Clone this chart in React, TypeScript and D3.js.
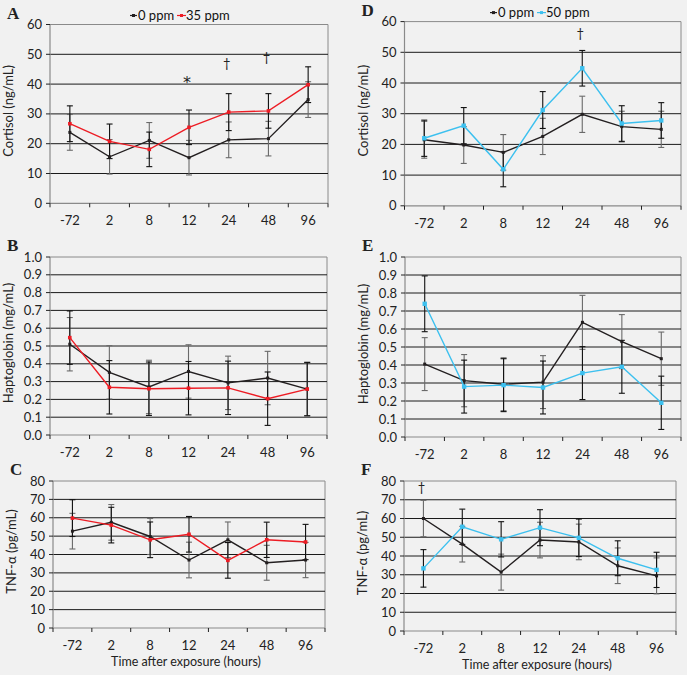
import React from "react";
import * as d3 from "d3";

const categories = ["-72", "2", "8", "12", "24", "48", "96"];

const cortisolTicks = [0, 10, 20, 30, 40, 50, 60];
const haptoTicks = [0, 0.1, 0.2, 0.3, 0.4, 0.5, 0.6, 0.7, 0.8, 0.9, 1.0];
const tnfTicks = [0, 10, 20, 30, 40, 50, 60, 70, 80];

// Panel A
const cortisolCtrlA = [23.8, 15.6, 21.1, 15.3, 21.3, 21.7, 34.8];
const cortisolCtrlAErr = [6, 5.8, 6, 5.8, 6, 5.8, 6];
const cortisol35 = [26.7, 20.8, 18.1, 25.5, 30.6, 31.0, 39.8];
const cortisol35Err = [6, 5.8, 5.8, 5.8, 6.2, 5.8, 6];
// Panel B
const haptoCtrlB = [0.51, 0.352, 0.27, 0.357, 0.293, 0.32, 0.258];
const haptoCtrlBErr = [0.15, 0.15, 0.15, 0.15, 0.15, 0.15, 0.15];
const hapto35 = [0.547, 0.268, 0.26, 0.263, 0.265, 0.204, 0.258];
const hapto35Err = [0.15, 0.15, 0.15, 0.15, 0.15, 0.15, 0.15];
// Panel C
const tnfCtrlC = [52.7, 57.5, 49.8, 37, 48, 35.5, 37];
const tnfCtrlCErr = [9.7, 9.7, 9.8, 9.7, 9.7, 9.5, 9.6];
const tnf35 = [59.8, 56, 48, 51, 36.8, 48, 46.8];
const tnf35Err = [10, 9.7, 9.7, 9.7, 9.7, 9.6, 9.6];
// Panel D
const cortisolCtrlD = [21.5, 19.8, 17.4, 22.6, 29.8, 25.8, 24.9];
const cortisolCtrlDErr = [6, 6, 5.8, 5.9, 5.9, 5, 5.9];
const cortisol50 = [22, 26.1, 11.9, 31.2, 44.8, 26.8, 27.8];
const cortisol50Err = [5.9, 5.9, 5.7, 6, 5.8, 5.8, 5.8];
// Panel E
const haptoCtrlE = [0.405, 0.313, 0.293, 0.305, 0.637, 0.53, 0.435];
const haptoCtrlEErr = [0.147, 0.145, 0.147, 0.147, 0.15, 0.15, 0.148];
const hapto50 = [0.74, 0.28, 0.288, 0.275, 0.355, 0.39, 0.19];
const hapto50Err = [0.155, 0.147, 0.147, 0.147, 0.147, 0.147, 0.148];
// Panel F
const tnfCtrlF = [60, 46.3, 31.4, 48.5, 47.5, 34.8, 29.4];
const tnfCtrlFErr = [9.7, 9.5, 9.6, 9.5, 9.5, 9.5, 9.6];
const tnf50 = [33.4, 55.6, 48.9, 55.1, 49.7, 38.8, 32.6];
const tnf50Err = [10, 9.4, 9.4, 9.6, 10, 9.3, 9.4];

const annotationsA = [
  { cat: "12", y: 42.5, text: "*" },
  { cat: "24", y: 47, text: "†" },
  { cat: "48", y: 49, text: "†" },
];
const annotationsD = [{ cat: "24", y: 56.3, text: "†" }];
const annotationsF = [{ cat: "-72", y: 76.3, text: "†" }];

const FONT = "Lato, 'Open Sans', sans-serif";
const BLACK = "#231f20";
const RED = "#ed1c24";
const BLUE = "#3cc0ef";
const GRAY = "#8a8a8a";

type Series = { values: number[]; err: number[]; color: string; marker: "dot" | "diamond" | "square"; barColor: string };

type PanelProps = {
  letter: string;
  left: number;
  right: number;
  top: number;
  bottom: number;
  ticks: number[];
  fmt: (v: number) => string;
  yTitle: string;
  series: Series[];
  legend?: { x: number; labels: string[] };
  annotations?: { cat: string; y: number; text: string }[];
  xTitle?: boolean;
};

function Panel(p: PanelProps) {
  const x = d3.scaleBand<string>().domain(categories).range([p.left, p.right]);
  const ymax = p.ticks[p.ticks.length - 1];
  const y = d3.scaleLinear().domain([0, ymax]).range([p.bottom, p.top]);
  const cx = (c: string) => (x(c) as number) + x.bandwidth() / 2;
  const line = d3
    .line<number>()
    .x((_, i) => cx(categories[i]))
    .y((v) => y(v));
  const midY = (p.top + p.bottom) / 2;
  const titleX = p.left - 37;
  const boundaries = categories.map((c) => x(c) as number).concat([p.right]);

  const marker = (s: Series, v: number, i: number) => {
    const px = cx(categories[i]);
    const py = y(v);
    if (s.marker === "square")
      return <rect key={i} x={px - 2.2} y={py - 2.2} width={4.4} height={4.4} fill={s.color} />;
    if (s.marker === "diamond")
      return <rect key={i} x={px - 1.8} y={py - 1.8} width={3.6} height={3.6} fill={s.color} />;
    return <rect key={i} x={px - 1.5} y={py - 1.5} width={3} height={3} fill={s.color} />;
  };

  return (
    <g>
      <text x={p.left - 43} y={p.top - 6} fontFamily="'Liberation Serif', serif" fontSize={17} fontWeight={600} fill="#222">
        {p.letter}
      </text>
      {/* border */}
      <line x1={p.left} x2={p.right} y1={p.top} y2={p.top} stroke={GRAY} strokeWidth={1} />
      <line x1={p.right} x2={p.right} y1={p.top} y2={p.bottom} stroke={GRAY} strokeWidth={1} />
      {/* gridlines */}
      {p.ticks.slice(1, -1).map((t) => (
        <line key={t} x1={p.left} x2={p.right} y1={y(t)} y2={y(t)} stroke="#1a1a1a" strokeWidth={1} />
      ))}
      {/* axes */}
      <line x1={p.left} x2={p.left} y1={p.top} y2={p.bottom} stroke={GRAY} strokeWidth={1.2} />
      <line x1={p.left} x2={p.right} y1={p.bottom} y2={p.bottom} stroke={GRAY} strokeWidth={1.2} />
      {p.ticks.map((t) => (
        <g key={t}>
          <line x1={p.left - 4} x2={p.left} y1={y(t)} y2={y(t)} stroke="#222" strokeWidth={1} />
          <text x={p.left - 8} y={y(t)} dy="0.35em" textAnchor="end" fontFamily={FONT} fontSize={13} fill="#222">
            {p.fmt(t)}
          </text>
        </g>
      ))}
      {boundaries.map((b, i) => (
        <line key={i} x1={b} x2={b} y1={p.bottom} y2={p.bottom + 4} stroke="#222" strokeWidth={1} />
      ))}
      {categories.map((c) => (
        <text key={c} x={cx(c)} y={p.bottom + 22} textAnchor="middle" fontFamily={FONT} fontSize={13} fill="#222">
          {c}
        </text>
      ))}
      {p.xTitle && (
        <text x={(p.left + p.right) / 2 - 3} y={p.bottom + 38} textAnchor="middle" fontFamily={FONT} fontSize={12.5} fill="#222">
          Time after exposure (hours)
        </text>
      )}
      <text
        transform={`translate(${titleX},${midY - 3}) rotate(-90)`}
        textAnchor="middle"
        fontFamily={FONT}
        fontSize={13}
        fill="#222"
      >
        {p.yTitle}
      </text>
      {/* error bars */}
      {p.series.map((s, si) => (
        <g key={si}>
          {s.values.map((v, i) => {
            const px = cx(categories[i]);
            const lo = y(v - s.err[i]);
            const hi = y(v + s.err[i]);
            return (
              <g key={i}>
                <line x1={px} x2={px} y1={lo} y2={hi} stroke={s.barColor} strokeWidth={1.1} />
                <line x1={px - 3} x2={px + 3} y1={lo} y2={lo} stroke={s.barColor} strokeWidth={1.1} />
                <line x1={px - 3} x2={px + 3} y1={hi} y2={hi} stroke={s.barColor} strokeWidth={1.1} />
              </g>
            );
          })}
        </g>
      ))}
      {/* lines */}
      {p.series.map((s, si) => (
        <g key={si}>
          <path d={line(s.values) || ""} fill="none" stroke={s.color} strokeWidth={1.4} />
          {s.values.map((v, i) => marker(s, v, i))}
        </g>
      ))}
      {p.annotations?.map((a, i) => (
        <text
          key={i}
          x={cx(a.cat) - 2}
          y={y(a.y)}
          dy={a.text === "*" ? "0.7em" : "0.35em"}
          textAnchor="middle"
          fontFamily={a.text === "*" ? "'DejaVu Sans', sans-serif" : FONT}
          fontSize={a.text === "*" ? 16 : 13}
          fill="#222"
        >
          {a.text}
        </text>
      ))}
      {p.legend && (
        <g fontFamily={FONT} fontSize={13} fill="#111">
          <line x1={p.legend.x} x2={p.legend.x + 7} y1={p.top - 9} y2={p.top - 9} stroke={p.series[0].color} strokeWidth={1.2} />
          <rect x={p.legend.x + 2} y={p.top - 10.5} width={3} height={3} fill={p.series[0].color} />
          <text x={p.legend.x + 8} y={p.top - 5}>{p.legend.labels[0]}</text>
          <line x1={p.legend.x + 47} x2={p.legend.x + 56} y1={p.top - 9} y2={p.top - 9} stroke={p.series[1].color} strokeWidth={1.2} />
          <rect x={p.legend.x + 50} y={p.top - 10.5} width={3} height={3} fill={p.series[1].color} />
          <text x={p.legend.x + 56} y={p.top - 5}>{p.legend.labels[1]}</text>
        </g>
      )}
    </g>
  );
}

const fmtInt = (v: number) => d3.format("d")(v);
const fmt1 = (v: number) => d3.format(".1f")(v);

export default function App() {
  const ctrl = (values: number[], err: number[]): Series => ({ values, err, color: BLACK, marker: "dot", barColor: "#6a6a6a" });
  const red = (values: number[], err: number[]): Series => ({ values, err, color: RED, marker: "diamond", barColor: "#111" });
  const blue = (values: number[], err: number[]): Series => ({ values, err, color: BLUE, marker: "square", barColor: "#111" });
  return (
    <div style={{ position: "fixed", left: 0, top: 0, width: 687, height: 675, background: "#f1f1f1" }}>
      <svg width={687} height={675} style={{ display: "block" }}>
        <rect width={687} height={675} fill="#f1f1f1" />
        <Panel
          letter="A" left={50} right={328} top={24.5} bottom={203.3}
          ticks={cortisolTicks} fmt={fmtInt} yTitle="Cortisol (ng/mL)"
          series={[ctrl(cortisolCtrlA, cortisolCtrlAErr), red(cortisol35, cortisol35Err)]}
          legend={{ x: 130, labels: ["0 ppm", "35 ppm"] }}
          annotations={annotationsA}
        />
        <Panel
          letter="B" left={50} right={327} top={257} bottom={435}
          ticks={haptoTicks} fmt={fmt1} yTitle="Haptoglobin (mg/mL)"
          series={[ctrl(haptoCtrlB, haptoCtrlBErr), red(hapto35, hapto35Err)]}
        />
        <Panel
          letter="C" left={53} right={325} top={481} bottom={628}
          ticks={tnfTicks} fmt={fmtInt} yTitle="TNF-α (pg/mL)"
          series={[ctrl(tnfCtrlC, tnfCtrlCErr), red(tnf35, tnf35Err)]}
          xTitle
        />
        <Panel
          letter="D" left={404.5} right={681} top={21.6} bottom={205.8}
          ticks={cortisolTicks} fmt={fmtInt} yTitle="Cortisol (ng/mL)"
          series={[ctrl(cortisolCtrlD, cortisolCtrlDErr), blue(cortisol50, cortisol50Err)]}
          legend={{ x: 490, labels: ["0 ppm", "50 ppm"] }}
          annotations={annotationsD}
        />
        <Panel
          letter="E" left={405} right={681} top={257} bottom={437}
          ticks={haptoTicks} fmt={fmt1} yTitle="Haptoglobin (mg/mL)"
          series={[ctrl(haptoCtrlE, haptoCtrlEErr), blue(hapto50, hapto50Err)]}
        />
        <Panel
          letter="F" left={404} right={676} top={481} bottom={631}
          ticks={tnfTicks} fmt={fmtInt} yTitle="TNF-α (pg/mL)"
          series={[ctrl(tnfCtrlF, tnfCtrlFErr), blue(tnf50, tnf50Err)]}
          annotations={annotationsF}
          xTitle
        />
      </svg>
    </div>
  );
}
